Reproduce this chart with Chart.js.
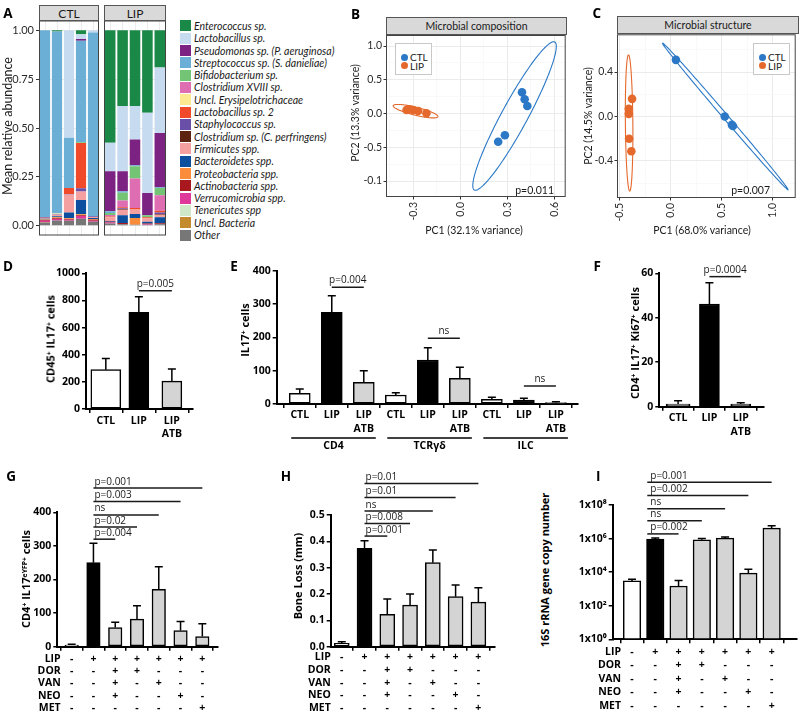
<!DOCTYPE html>
<html>
<head>
<meta charset="utf-8">
<script src="https://cdn.jsdelivr.net/npm/chart.js@4.4.1/dist/chart.umd.min.js"></script>
<style>
  body { margin: 0; width: 800px; height: 713px; position: relative; overflow: hidden; background: #fff; font-family: 'Open Sans', sans-serif; }
  canvas { position: absolute; }
  .txt { position: absolute; white-space: nowrap; line-height: 1; transform: translate(-50%, -50%); }
  .rot { transform: translate(-50%, -50%) rotate(-90deg); }
  .right { transform: translate(-100%, -50%); }
  .gg { font-family: Lato, sans-serif; color: #1a1a1a; font-size: 10px; }
  .gp { font-weight: 700; font-size: 10.5px; color: #000; }
  .letter { font-weight: 700; font-size: 13.5px; color: #000; }
  .strip { position: absolute; box-sizing: border-box; background: #d9d9d9; border: 1px solid #555; display: flex; align-items: center; justify-content: center; font-family: Lato, sans-serif; color: #1a1a1a; }
  sup { font-size: 0.62em; position: relative; top: -0.45em; vertical-align: baseline; line-height: 0; }
  .taxa { position: absolute; left: 180px; top: 19.85px; font: italic 10.5px Lato, sans-serif; color: #1a1a1a; }
  .taxa div { height: 12.3px; display: flex; align-items: center; white-space: nowrap; }
  .sw { width: 11px; height: 11px; margin-right: 3px; flex: none; }
  .ptlegend { position: absolute; box-sizing: border-box; width: 37px; height: 32px; border: 1px solid #c8c8c8; background: #fff; padding: 9px 0 0 4.5px; font: 10px Lato, sans-serif; color: #1a1a1a; }
  .ptlegend div { height: 8.4px; display: flex; align-items: center; }
  .dot { width: 7px; height: 7px; border-radius: 50%; margin-right: 2.5px; flex: none; }
</style>
</head>
<body>
<script>
// ---------- A: mean relative abundance (one row per mouse, taxa in legend order) ----------
const taxa = [
  'Enterococcus sp.', 'Lactobacillus sp.', 'Pseudomonas sp. (P. aeruginosa)', 'Streptococcus sp. (S. danieliae)',
  'Bifidobacterium sp.', 'Clostridium XVIII sp.', 'Uncl. Erysipelotrichaceae', 'Lactobacillus sp. 2',
  'Staphylococcus sp.', 'Clostridium sp. (C. perfringens)', 'Firmicutes spp.', 'Bacteroidetes spp.',
  'Proteobacteria spp.', 'Actinobacteria spp.', 'Verrucomicrobia spp.', 'Tenericutes spp', 'Uncl. Bacteria', 'Other'
];
const taxaColors = [
  '#1a8846', '#c6dbef', '#7b2282', '#6baed6', '#74c476', '#df6db2', '#fde992', '#f04a2a', '#6a4fa8',
  '#5c2410', '#f4a0a0', '#0b4f9e', '#fb8c3c', '#a8181e', '#e0379b', '#cfe8c8', '#c48a2e', '#777777'
];
const ctlAbundance = [
  [0, 0, 0, 0.955, 0, 0, 0, 0.003, 0.002, 0, 0.004, 0.004, 0.003, 0.004, 0.006, 0, 0.002, 0.017],
  [0.006, 0, 0, 0.932, 0, 0, 0.003, 0, 0.003, 0, 0.008, 0.004, 0.006, 0.003, 0.008, 0, 0, 0.027],
  [0, 0.55, 0, 0.257, 0, 0, 0, 0.031, 0.002, 0, 0.092, 0.03, 0.003, 0.004, 0.006, 0, 0, 0.025],
  [0.02, 0.025, 0.008, 0.52, 0.004, 0, 0, 0.231, 0.017, 0, 0.043, 0.073, 0.005, 0.004, 0.014, 0, 0, 0.036],
  [0, 0.012, 0, 0.94, 0, 0, 0, 0, 0.003, 0, 0.006, 0.004, 0.004, 0.005, 0.006, 0, 0, 0.02]
];
const lipAbundance = [
  [0.576, 0.145, 0.205, 0.009, 0.01, 0.008, 0, 0.003, 0, 0, 0.02, 0.004, 0, 0.003, 0.005, 0, 0, 0.012],
  [0.388, 0.333, 0.103, 0.007, 0.04, 0.035, 0, 0.004, 0.004, 0.004, 0.028, 0.04, 0, 0.006, 0, 0, 0, 0.008],
  [0.388, 0.171, 0.132, 0.005, 0.063, 0.15, 0, 0.008, 0, 0, 0.023, 0.02, 0.035, 0, 0, 0, 0, 0.005],
  [0.422, 0.41, 0.115, 0, 0.01, 0, 0, 0.005, 0, 0, 0.018, 0.008, 0, 0.003, 0.004, 0, 0, 0.005],
  [0.191, 0.334, 0.278, 0.004, 0.037, 0.079, 0, 0.009, 0.008, 0.004, 0.012, 0.031, 0, 0.005, 0, 0, 0, 0.008]
];
const abundanceTicks = [0, 0.25, 0.5, 0.75, 1];
const abundanceLabels = ['0.00', '0.25', '0.50', '0.75', '1.00'];
const abundanceMinor = [0.125, 0.375, 0.625, 0.875];

// ---------- B / C: PCA ----------
const groupNames = ['CTL', 'LIP'];
const bCtlX = [0.394, 0.411, 0.428, 0.242, 0.285];
const bCtlY = [0.314, 0.210, 0.111, -0.418, -0.323];
const bLipX = [-0.343, -0.322, -0.301, -0.269, -0.216];
const bLipY = [0.052, 0.062, 0.052, 0.037, 0.003];
const bXTicks = [-0.3, 0, 0.3, 0.6];
const bXLabels = ['-0.3', '0.0', '0.3', '0.6'];
const bXMinor = [-0.45, -0.15, 0.15, 0.45];
const bYTicks = [-1, -0.5, 0, 0.5, 1];
const bYLabels = ['-0.1', '-0.5', '0.0', '0.5', '1.0'];
const bYMinor = [-0.75, -0.25, 0.25, 0.75];

const cCtlX = [0.05, 0.53, 0.60, 0.61];
const cCtlY = [0.51, 0.0, -0.075, -0.085];
const cLipX = [-0.381, -0.413, -0.413, -0.41, -0.388];
const cLipY = [0.159, 0.069, 0.024, -0.2, -0.312];
const cXTicks = [-0.5, 0, 0.5, 1];
const cXLabels = ['-0.5', '0.0', '0.5', '1.0'];
const cXMinor = [-0.25, 0.25, 0.75];
const cYTicks = [-0.4, 0, 0.4];
const cYLabels = ['-0.4', '0.0', '0.4'];
const cYMinor = [-0.6, -0.2, 0.2, 0.6];

// confidence ellipses: centre and the two semi-axis vectors, in data units
const bCtlEllipse = { centre: [0.3465, -0.037], a: [0.2565, 1.096], b: [0.0722, -0.0924] };
const bLipEllipse = { centre: [-0.2855, 0.0345], a: [-0.1425, 0.0815], b: [-0.006, -0.0578] };
const cCtlEllipse = { centre: [0.5345, 0.0016], a: [-0.617, 0.66], b: [0.018, 0.0147] };
const cLipEllipse = { centre: [-0.41, -0.058], a: [-0.006, 0.613], b: [0.0367, 0] };

// ---------- D, E, F: IL17+ cells ----------
const dLabels = ['CTL', 'LIP', ['LIP', 'ATB']];
const dMeans = [290, 712, 206];
const dSem = [83, 116, 89];
const dTicks = [0, 200, 400, 600, 800, 1000];

const eLabels = ['CTL', 'LIP', ['LIP', 'ATB'], 'CTL', 'LIP', ['LIP', 'ATB'], 'CTL', 'LIP', ['LIP', 'ATB']];
const eGroups = ['CD4', 'TCRγδ', 'ILC'];
const eMeans = [32, 275, 65, 27, 132, 77, 14, 12, 4];
const eSem = [13, 50, 35, 7, 37, 33, 6, 5, 3];
const eTicks = [0, 100, 200, 300, 400];

const fLabels = ['CTL', 'LIP', ['LIP', 'ATB']];
const fMeans = [1.2, 46.2, 1.2];
const fSem = [1.5, 9.6, 0.6];
const fTicks = [0, 20, 40, 60];

// ---------- G, H, I: antibiotic treatments ----------
const treatNames = ['LIP', 'DOR', 'VAN', 'NEO', 'MET'];
const lipRow = ['-', '+', '+', '+', '+', '+', '+'];
const dorRow = ['-', '-', '+', '+', '-', '-', '-'];
const vanRow = ['-', '-', '+', '-', '+', '-', '-'];
const neoRow = ['-', '-', '+', '-', '-', '+', '-'];
const metRow = ['-', '-', '-', '-', '-', '-', '+'];

const gMeans = [5, 250, 57, 82, 171, 48, 30];
const gSem = [2, 58, 16, 40, 67, 27, 38];
const gTicks = [0, 100, 200, 300, 400];

const hMeans = [0.013, 0.373, 0.123, 0.158, 0.319, 0.19, 0.169];
const hSem = [0.006, 0.029, 0.058, 0.042, 0.048, 0.044, 0.055];
const hTicks = [0, 0.1, 0.2, 0.3, 0.4, 0.5];

const iMeans = [3000, 930000, 1500, 850000, 1070000, 8700, 4200000];
const iSem = [800, 140000, 1700, 150000, 160000, 6300, 1600000];
const iTicks = [1, 1e2, 1e4, 1e6, 1e8];

// significance bars: [from bar, to bar, height (data units), text]
const dSig = [[1, 2, 872, 'p=0.005']];
const eSig = [[1, 2, 350, 'p=0.004'], [4, 5, 197, 'ns'], [7, 8, 54, 'ns']];
const fSig = [[1, 2, 58.5, 'p=0.0004']];
const gSig = [[1, 6, 472, 'p=0.001'], [1, 5, 432, 'p=0.003'], [1, 4, 392, 'ns'], [1, 3, 356, 'p=0.02'], [1, 2, 320, 'p=0.004']];
const hSig = [[1, 6, 0.62, 'p=0.01'], [1, 5, 0.566, 'p=0.01'], [1, 4, 0.515, 'ns'], [1, 3, 0.468, 'p=0.008'], [1, 2, 0.42, 'p=0.001']];
const iSig = [[1, 6, 2.3e9, 'p=0.001'], [1, 5, 3.7e8, 'p=0.002'], [1, 4, 6e7, 'ns'], [1, 3, 1.15e7, 'ns'], [1, 2, 1.9e6, 'p=0.002']];

const BLUE = '#2a78c6';
const ORANGE = '#e5692c';
const WHITE = '#ffffff', BLACK = '#000000', GREY = '#d4d4d4';

Chart.defaults.font.family = "'Open Sans', sans-serif";
Chart.defaults.animation = false;
Chart.defaults.events = [];
Chart.defaults.plugins.legend.display = false;
Chart.defaults.plugins.tooltip.enabled = false;

// ---------- helpers ----------
const makeCanvas = (left, top, width, height) => {
  const canvas = document.createElement('canvas');
  canvas.width = width;
  canvas.height = height;
  canvas.style.left = left + 'px';
  canvas.style.top = top + 'px';
  canvas.style.width = width + 'px';
  canvas.style.height = height + 'px';
  document.body.appendChild(canvas);
  return canvas;
};

// puts the plot area at page coords [x0, y0, x1, y1] inside a canvas box [left, top, w, h]
const fitArea = (config, box, area) => {
  const [cl, ct, cw, ch] = box;
  const [x0, y0, x1, y1] = area;
  config.options.responsive = false;
  config.options.layout = { padding: { left: 0, top: y0 - ct, right: cl + cw - x1, bottom: 0 } };
  config.options.scales.x.afterFit = s => { s.height = ct + ch - y1; s.paddingLeft = 0; s.paddingRight = 0; };
  config.options.scales.y.afterFit = s => { s.width = x0 - cl; s.paddingTop = 0; s.paddingBottom = 0; };
  return new Chart(makeCanvas(cl, ct, cw, ch), config);
};

const addText = (html, x, y, cls = '', style = {}) => {
  const el = document.createElement('div');
  el.className = 'txt ' + cls;
  el.innerHTML = html;
  el.style.left = x + 'px';
  el.style.top = y + 'px';
  Object.assign(el.style, style);
  document.body.appendChild(el);
  return el;
};

const addStrip = (text, left, top, width, height, size) => {
  const el = document.createElement('div');
  el.className = 'strip';
  Object.assign(el.style, { left: left + 'px', top: top + 'px', width: width + 'px', height: height + 'px', fontSize: size + 'px' });
  el.textContent = text;
  document.body.appendChild(el);
};

const addPointLegend = (left, top) => {
  const box = document.createElement('div');
  box.className = 'ptlegend';
  box.style.left = left + 'px';
  box.style.top = top + 'px';
  [BLUE, ORANGE].forEach((color, i) => {
    const row = document.createElement('div');
    row.innerHTML = `<span class="dot" style="background:${color}"></span><span>${groupNames[i]}</span>`;
    box.appendChild(row);
  });
  document.body.appendChild(box);
};

// ggplot-like axis with major/minor grid
const ggAxis = (min, max, major, labels, minor, opts = {}) => {
  const isMajor = c => c.tick && major.includes(c.tick.value);
  return {
    type: 'linear', min, max,
    afterBuildTicks: s => { s.ticks = major.concat(minor).sort((p, q) => p - q).map(v => ({ value: v })); },
    ticks: {
      display: opts.labels !== false, autoSkip: false,
      minRotation: opts.rotate || 0, maxRotation: opts.rotate || 0,
      padding: opts.padding ?? 2, color: '#2b2b2b',
      font: { family: 'Lato', size: opts.size || 10.5 },
      callback: v => { const k = major.indexOf(v); return k < 0 ? '' : labels[k]; },
    },
    grid: {
      color: c => isMajor(c) ? '#ebebeb' : '#f5f5f5',
      lineWidth: c => isMajor(c) ? 1 : 0.6,
      tickColor: c => isMajor(c) ? '#333' : 'rgba(0,0,0,0)',
      tickLength: opts.tickLength ?? 3,
      drawTicks: opts.labels !== false,
    },
    border: { display: false },
  };
};

const framePlugin = {
  id: 'frame',
  afterDraw(chart) {
    const { ctx, chartArea: a } = chart;
    ctx.save();
    ctx.strokeStyle = '#444';
    ctx.lineWidth = 1;
    ctx.strokeRect(a.left + 0.5, a.top + 0.5, a.width - 1, a.height - 1);
    ctx.restore();
  }
};

const ellipsePlugin = (items) => ({
  id: 'ellipses',
  beforeDatasetsDraw(chart) {
    const { ctx, scales: { x, y } } = chart;
    items.forEach(([e, color]) => {
      ctx.save();
      ctx.strokeStyle = color;
      ctx.lineWidth = 1.1;
      ctx.beginPath();
      for (let k = 0; k <= 180; k++) {
        const t = k / 180 * Math.PI * 2;
        const vx = e.centre[0] + e.a[0] * Math.cos(t) + e.b[0] * Math.sin(t);
        const vy = e.centre[1] + e.a[1] * Math.cos(t) + e.b[1] * Math.sin(t);
        const px = x.getPixelForValue(vx), py = y.getPixelForValue(vy);
        if (k === 0) ctx.moveTo(px, py); else ctx.lineTo(px, py);
      }
      ctx.stroke();
      ctx.restore();
    });
  }
});

const errorBarPlugin = {
  id: 'errorBars',
  afterDatasetsDraw(chart) {
    const { ctx, scales: { y } } = chart;
    ctx.save();
    ctx.strokeStyle = '#000';
    ctx.lineWidth = 1.5;
    chart.data.datasets.forEach((ds, di) => {
      if (!ds.errors) return;
      chart.getDatasetMeta(di).data.forEach((bar, i) => {
        const top = y.getPixelForValue(ds.data[i].y + ds.errors[i]);
        ctx.beginPath();
        ctx.moveTo(bar.x, bar.y);
        ctx.lineTo(bar.x, top);
        ctx.moveTo(bar.x - 4, top);
        ctx.lineTo(bar.x + 4, top);
        ctx.stroke();
      });
    });
    ctx.restore();
  }
};

const sigPlugin = (items, opts) => ({
  id: 'sig',
  afterDraw(chart) {
    const { ctx, scales: { x, y } } = chart;
    ctx.save();
    ctx.strokeStyle = '#1a1a1a';
    ctx.fillStyle = '#1a1a1a';
    ctx.lineWidth = 1.5;
    ctx.font = "400 10px 'Open Sans'";
    ctx.textBaseline = 'alphabetic';
    items.forEach(([from, to, value, label]) => {
      const x0 = x.getPixelForValue(from) + (opts.dxStart || 0);
      const x1 = x.getPixelForValue(to);
      const py = y.getPixelForValue(value);
      ctx.beginPath();
      ctx.moveTo(x0, py);
      ctx.lineTo(x1, py);
      ctx.stroke();
      if (opts.align === 'left') {
        ctx.textAlign = 'left';
        ctx.fillText(label, x0 + (opts.dxText || 0), py - opts.gap);
      } else {
        ctx.textAlign = 'center';
        ctx.fillText(label, (x0 + x1) / 2, py - opts.gap);
      }
    });
    ctx.restore();
  }
});

// row names of the treatment table under G, H, I
const rowHeadPlugin = (names, lineH, pad) => ({
  id: 'rowHeads',
  afterDraw(chart) {
    const { ctx, scales: { x } } = chart;
    ctx.save();
    ctx.font = "700 10.5px 'Open Sans'";
    ctx.fillStyle = '#000';
    ctx.textAlign = 'right';
    ctx.textBaseline = 'middle';
    const px = x.getPixelForValue(0) - 11;
    names.forEach((name, r) => {
      ctx.fillText(name, px, x.top + 4 + pad + lineH / 2 + r * lineH);
    });
    ctx.restore();
  }
});

// cell-type group lines under E
const groupPlugin = (names, size) => ({
  id: 'groups',
  afterDraw(chart) {
    const { ctx, scales: { x } } = chart;
    ctx.save();
    ctx.strokeStyle = '#000';
    ctx.fillStyle = '#000';
    ctx.lineWidth = 1.3;
    ctx.font = "700 10.5px 'Open Sans'";
    ctx.textAlign = 'center';
    ctx.textBaseline = 'middle';
    names.forEach((name, g) => {
      const x0 = x.getPixelForValue(g * size) - 8.5;
      const x1 = x.getPixelForValue(g * size + size - 1) + 12;
      const ly = x.top + 34;
      ctx.beginPath();
      ctx.moveTo(x0, ly);
      ctx.lineTo(x1, ly);
      ctx.stroke();
      ctx.fillText(name, (x0 + x1) / 2, x.top + 42.5);
    });
    ctx.restore();
  }
});

// GraphPad-style bar chart
const gpConfig = (p) => ({
  type: 'bar',
  data: {
    datasets: p.groups.map((idx, g) => ({
      data: idx.map(i => ({ x: i, y: p.means[i] })),
      errors: idx.map(i => p.sem[i]),
      backgroundColor: idx.map(i => p.fills[i]),
      borderColor: '#000',
      borderWidth: 1.5,
      borderSkipped: false,
      barThickness: p.widths[g],
      grouped: false,
    })),
  },
  options: {
    scales: {
      x: {
        type: 'linear', min: p.xRange[0], max: p.xRange[1], offset: false,
        afterBuildTicks: s => { s.ticks = p.labels.map((_, i) => ({ value: i })); },
        ticks: {
          autoSkip: false, minRotation: 0, maxRotation: 0, padding: p.pad, color: '#000',
          font: { size: 10.5, weight: 'bold', lineHeight: p.lineH + 'px' },
          callback: (v, i) => p.labels[i],
        },
        grid: { drawOnChartArea: false, color: '#000', lineWidth: 1.5, tickLength: 4 },
        border: { color: '#000', width: 2 },
      },
      y: {
        type: p.log ? 'logarithmic' : 'linear',
        min: p.yTicks[0], max: p.yTicks[p.yTicks.length - 1],
        afterBuildTicks: s => { s.ticks = p.yTicks.map(v => ({ value: v })); },
        ticks: { padding: 2, color: '#000', font: { size: 10.5, weight: 'bold' }, callback: p.yFormat },
        grid: { drawOnChartArea: false, color: '#000', lineWidth: 1.5, tickLength: 4 },
        border: { color: '#000', width: 2 },
      },
    },
  },
  plugins: [errorBarPlugin].concat(p.plugins || []),
});

// ---------- A ----------
const abundanceConfig = (samples, showAxis) => ({
  type: 'bar',
  data: {
    labels: samples.map((_, i) => String(i + 1)),
    datasets: taxa.map((name, k) => ({
      label: name,
      data: samples.map(s => s[k]),
      backgroundColor: taxaColors[k],
      borderWidth: 0,
      barPercentage: 0.85,
      categoryPercentage: 1,
    })).reverse(),
  },
  options: {
    scales: {
      x: { stacked: true, ticks: { display: false }, grid: { offset: false, color: '#ebebeb', drawTicks: false }, border: { display: false } },
      y: Object.assign(ggAxis(-0.05, 1.05, abundanceTicks, abundanceLabels, abundanceMinor, { labels: showAxis, padding: 2, size: 11 }), { stacked: true }),
    },
  },
  plugins: [framePlugin],
});

fitArea(abundanceConfig(ctlAbundance, true), [0, 18, 100, 222], [39, 20.5, 99, 235.5]);
fitArea(abundanceConfig(lipAbundance, false), [104, 18, 64, 222], [104, 20.5, 166, 235.5]);
addStrip('CTL', 39, 5, 60, 16, 12);
addStrip('LIP', 104, 5, 62, 16, 12);
addText('Mean relative abundance', 8, 126, 'gg rot', { fontSize: '12.5px' });

const legend = document.createElement('div');
legend.className = 'taxa';
taxa.forEach((name, k) => {
  const row = document.createElement('div');
  row.innerHTML = `<span class="sw" style="background:${taxaColors[k]}"></span><span>${name}</span>`;
  legend.appendChild(row);
});
document.body.appendChild(legend);

// ---------- B, C ----------
const pcaConfig = (ctl, lip, xAxis, yAxis, ellipses) => ({
  type: 'scatter',
  data: {
    datasets: [
      { data: ctl, backgroundColor: BLUE, pointRadius: 4.3, borderWidth: 0 },
      { data: lip, backgroundColor: ORANGE, pointRadius: 4.3, borderWidth: 0 },
    ],
  },
  options: { scales: { x: xAxis, y: yAxis } },
  plugins: [ellipsePlugin(ellipses), framePlugin],
});

fitArea(pcaConfig(
  bCtlX.map((x, i) => ({ x, y: bCtlY[i] })),
  bLipX.map((x, i) => ({ x, y: bLipY[i] })),
  ggAxis(-0.474, 0.673, bXTicks, bXLabels, bXMinor, { rotate: 90, tickLength: 2.5, padding: 2.5 }),
  ggAxis(-1.237, 1.163, bYTicks, bYLabels, bYMinor, { tickLength: 2.5, padding: 1.5 }),
  [[bCtlEllipse, BLUE], [bLipEllipse, ORANGE]]
), [340, 30, 230, 210], [386, 35, 567, 197]);

fitArea(pcaConfig(
  cCtlX.map((x, i) => ({ x, y: cCtlY[i] })),
  cLipX.map((x, i) => ({ x, y: cLipY[i] })),
  ggAxis(-0.529, 1.227, cXTicks, cXLabels, cXMinor, { rotate: 90, tickLength: 2.5, padding: 2.5 }),
  ggAxis(-0.733, 0.74, cYTicks, cYLabels, cYMinor, { tickLength: 2.5, padding: 1.5 }),
  [[cCtlEllipse, BLUE], [cLipEllipse, ORANGE]]
), [590, 30, 210, 210], [617, 34, 799, 198]);

addStrip('Microbial composition', 386, 17, 181, 18, 10.5);
addStrip('Microbial structure', 617, 16, 182, 18, 10.5);
addPointLegend(395, 43);
addPointLegend(753, 43);
addText('PC2 (13.3% variance)', 355, 113, 'gg rot', { fontSize: '10.5px' });
addText('PC1 (32.1% variance)', 474, 229.5, 'gg', { fontSize: '10.5px' });
addText('PC2 (14.5% variance)', 588, 116, 'gg rot', { fontSize: '10.5px' });
addText('PC1 (68.0% variance)', 702, 230, 'gg', { fontSize: '10.5px' });
addText('p=0.011', 554, 190, 'gg right', { fontSize: '10.5px' });
addText('p=0.007', 770, 190, 'gg right', { fontSize: '10.5px' });

// ---------- D, E, F ----------
const threeFills = [WHITE, BLACK, GREY];

fitArea(gpConfig({
  labels: dLabels, means: dMeans, sem: dSem, fills: threeFills,
  groups: [[0], [1, 2]], widths: [30, 20],
  xRange: [-0.6, 2.64], yTicks: dTicks, yFormat: v => String(v),
  lineH: 13, pad: 1.5,
  plugins: [sigPlugin(dSig, { align: 'center', gap: 4 })],
}), [40, 262, 160, 190], [86, 273.3, 193, 409]);

fitArea(gpConfig({
  labels: eLabels, means: eMeans, sem: eSem, fills: eMeans.map((_, i) => threeFills[i % 3]),
  groups: [eMeans.map((_, i) => i)], widths: [21],
  xRange: [-0.72, 8.69], yTicks: eTicks, yFormat: v => String(v),
  lineH: 14, pad: 0,
  plugins: [sigPlugin(eSig, { align: 'center', gap: 4 }), groupPlugin(eGroups, 3)],
}), [250, 262, 340, 192], [276.7, 270.7, 578, 404]);

fitArea(gpConfig({
  labels: fLabels, means: fMeans, sem: fSem, fills: threeFills,
  groups: [[0], [1, 2]], widths: [24, 20],
  xRange: [-0.6, 2.72], yTicks: fTicks, yFormat: v => String(v),
  lineH: 13.4, pad: 1,
  plugins: [sigPlugin(fSig, { align: 'center', gap: 3.5 })],
}), [640, 262, 160, 190], [659.3, 273.3, 763.3, 406.7]);

addText('CD45<sup>+</sup> IL17<sup>+</sup> cells', 50, 339, 'gp rot', { fontSize: '11px' });
addText('IL17<sup>+</sup> cells', 243.5, 330, 'gp rot', { fontSize: '11px' });
addText('CD4<sup>+</sup> IL17<sup>+</sup> Ki67<sup>+</sup> cells', 633.5, 342.5, 'gp rot', { fontSize: '11px' });

// ---------- G, H, I ----------
const treatLabels = lipRow.map((_, i) => [lipRow[i], dorRow[i], vanRow[i], neoRow[i], metRow[i]]);
const sevenFills = [WHITE, BLACK, GREY, GREY, GREY, GREY, GREY];
const allSeven = gMeans.map((_, i) => i);
const supDigits = { 0: '⁰', 2: '²', 4: '⁴', 6: '⁶', 8: '⁸' };

fitArea(gpConfig({
  labels: treatLabels, means: gMeans, sem: gSem, fills: sevenFills,
  groups: [allSeven], widths: [13.5],
  xRange: [-0.66, 6.72], yTicks: gTicks, yFormat: v => String(v),
  lineH: 12.3, pad: 2,
  plugins: [sigPlugin(gSig, { align: 'left', gap: 3.5, dxText: 1 }), rowHeadPlugin(treatNames, 12.3, 2)],
}), [30, 465, 200, 248], [57.3, 512.3, 218, 646.7]);

fitArea(gpConfig({
  labels: treatLabels, means: hMeans, sem: hSem, fills: sevenFills,
  groups: [allSeven], widths: [15],
  xRange: [-0.485, 6.73], yTicks: hTicks, yFormat: v => v.toFixed(1),
  lineH: 12.8, pad: 0,
  plugins: [sigPlugin(hSig, { align: 'left', gap: 3.5, dxText: 1 }), rowHeadPlugin(treatNames, 12.8, 0)],
}), [295, 465, 205, 248], [330.7, 515, 495, 646.7]);

fitArea(gpConfig({
  labels: treatLabels, means: iMeans, sem: iSem, fills: sevenFills, log: true,
  groups: [allSeven], widths: [17.5],
  xRange: [-0.83, 7.09], yTicks: iTicks,
  yFormat: v => '1x10' + supDigits[Math.round(Math.log10(v))],
  lineH: 13.6, pad: 1.6,
  plugins: [sigPlugin(iSig, { align: 'left', gap: 3.5, dxStart: -8, dxText: 3 }), rowHeadPlugin(treatNames, 13.6, 1.6)],
}), [560, 465, 240, 248], [612.7, 505, 797, 639.3]);

addText('CD4<sup>+</sup> IL17<sup>eYFP+</sup> cells', 25, 579, 'gp rot', { fontSize: '11px' });
addText('Bone Loss (mm)', 296.7, 576, 'gp rot', { fontSize: '11px' });
addText('16S rRNA gene copy number', 544, 570, 'gp rot', { fontSize: '11px' });

// ---------- panel letters ----------
[['A', 8, 13.5], ['B', 355.5, 14.5], ['C', 596.7, 14], ['D', 8, 266.5], ['E', 234, 267.2],
 ['F', 597.3, 267.3], ['G', 11.2, 477.3], ['H', 285.8, 477.3], ['I', 598.3, 477.3]]
  .forEach(([t, x, y]) => addText(t, x, y, 'letter'));
</script>
</body>
</html>
